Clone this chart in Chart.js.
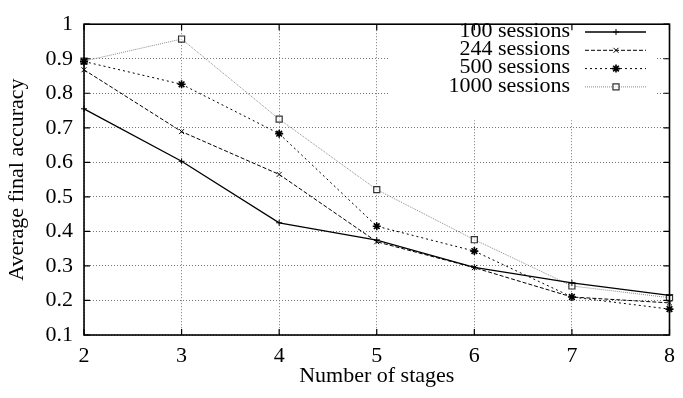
<!DOCTYPE html>
<html>
<head>
<meta charset="utf-8">
<script src="https://cdn.jsdelivr.net/npm/chart.js@4/dist/chart.umd.min.js"></script>
<style>
  html, body { margin: 0; padding: 0; background: #fff; }
</style>
</head>
<body>
<canvas id="accChart" width="683" height="398"></canvas>
<script>
// values
const stages = ['2', '3', '4', '5', '6', '7', '8'];
const seriesNames = ['100 sessions', '244 sessions', '500 sessions', '1000 sessions'];
const acc100 = [0.755, 0.603, 0.425, 0.375, 0.296, 0.251, 0.215];
const acc244 = [0.868, 0.689, 0.565, 0.370, 0.295, 0.210, 0.193];
const acc500 = [0.892, 0.826, 0.683, 0.415, 0.343, 0.210, 0.175];
const acc1000 = [0.893, 0.957, 0.725, 0.521, 0.376, 0.242, 0.208];
const yTicks = [0.1, 0.2, 0.3, 0.4, 0.5, 0.6, 0.7, 0.8, 0.9, 1];

const serif = "'Liberation Serif', 'Times New Roman', serif";
const fontSize = 22;

// gnuplot-ish frame, inner tick marks and the key
const gnuFrame = {
  id: 'gnuFrame',
  afterDraw(chart) {
    const ctx = chart.ctx;
    const a = chart.chartArea;
    const xs = chart.scales.x, ys = chart.scales.y;
    ctx.save();

    // key
    ctx.fillStyle = '#fff';
    ctx.fillRect(390, a.top + 2, 266, 94);
    ctx.font = fontSize + 'px ' + serif;
    ctx.textAlign = 'right';
    ctx.textBaseline = 'middle';
    chart.data.datasets.forEach((ds, i) => {
      const y = 32 + i * 18.3;
      ctx.fillStyle = '#000';
      ctx.fillText(ds.label, 570, y - 1);
      ctx.strokeStyle = ds.borderColor;
      ctx.lineWidth = ds.borderWidth;
      ctx.setLineDash(ds.borderDash || []);
      ctx.beginPath();
      ctx.moveTo(585, y);
      ctx.lineTo(646, y);
      ctx.stroke();
      ctx.setLineDash([]);
      ctx.strokeStyle = ds.pointBorderColor;
      ctx.fillStyle = ds.pointBackgroundColor;
      ctx.lineWidth = ds.pointBorderWidth;
      Chart.helpers.drawPoint(ctx, {
        pointStyle: ds.pointStyle, radius: ds.pointRadius, rotation: 0, borderWidth: ds.pointBorderWidth
      }, 616, y);
    });

    // tick marks on all four sides
    ctx.strokeStyle = '#000';
    ctx.lineWidth = 1.2;
    ctx.beginPath();
    stages.forEach((s, i) => {
      const x = xs.getPixelForValue(i);
      ctx.moveTo(x, a.bottom); ctx.lineTo(x, a.bottom - 6);
      ctx.moveTo(x, a.top); ctx.lineTo(x, a.top + 6);
    });
    yTicks.forEach(v => {
      const y = ys.getPixelForValue(v);
      ctx.moveTo(a.left, y); ctx.lineTo(a.left + 6, y);
      ctx.moveTo(a.right, y); ctx.lineTo(a.right - 6, y);
    });
    ctx.stroke();

    // border
    ctx.lineWidth = 1.6;
    ctx.strokeRect(a.left, a.top, a.right - a.left, a.bottom - a.top);
    ctx.restore();
  }
};

const ctx = document.getElementById('accChart').getContext('2d');
const accChart = new Chart(ctx, {
  type: 'line',
  data: {
    labels: stages,
    datasets: [{
      label: seriesNames[0],
      data: acc100,
      borderColor: '#000',
      borderWidth: 1.3,
      pointStyle: 'cross',
      pointRadius: 3,
      pointBorderColor: '#000',
      pointBackgroundColor: '#000',
      pointBorderWidth: 1
    }, {
      label: seriesNames[1],
      data: acc244,
      borderColor: '#000',
      borderWidth: 1,
      borderDash: [4, 2],
      pointStyle: 'crossRot',
      pointRadius: 3.5,
      pointBorderColor: '#000',
      pointBackgroundColor: '#000',
      pointBorderWidth: 1
    }, {
      label: seriesNames[2],
      data: acc500,
      borderColor: '#000',
      borderWidth: 1,
      borderDash: [2, 3],
      pointStyle: 'star',
      pointRadius: 4,
      pointBorderColor: '#000',
      pointBackgroundColor: '#000',
      pointBorderWidth: 1.6
    }, {
      label: seriesNames[3],
      data: acc1000,
      borderColor: '#8a8a8a',
      borderWidth: 1,
      borderDash: [1, 1],
      pointStyle: 'rect',
      pointRadius: 4.3,
      pointBorderColor: '#333',
      pointBackgroundColor: 'rgba(255,255,255,0.6)',
      pointBorderWidth: 1.2
    }]
  },
  options: {
    responsive: false,
    animation: false,
    devicePixelRatio: 1,
    layout: { padding: { top: 14, right: 9, left: 0, bottom: 0 } },
    plugins: {
      legend: { display: false },
      tooltip: { enabled: false }
    },
    elements: { line: { tension: 0 } },
    scales: {
      x: {
        type: 'category',
        offset: false,
        afterFit: s => { s.height = 63; },
        grid: { color: '#777', lineWidth: 1, drawTicks: false },
        border: { display: false, dash: [1, 2] },
        ticks: { color: '#000', padding: 8, font: { family: serif, size: fontSize } },
        title: {
          display: true, text: 'Number of stages', color: '#000',
          font: { family: serif, size: fontSize }, padding: { top: 0, bottom: 9 }
        }
      },
      y: {
        min: 0.1,
        max: 1,
        afterFit: s => { s.width = 84; },
        afterBuildTicks: s => { s.ticks = yTicks.map(v => ({ value: v })); },
        grid: { color: '#777', lineWidth: 1, drawTicks: false },
        border: { display: false, dash: [1, 2] },
        ticks: {
          color: '#000', padding: 11, font: { family: serif, size: fontSize },
          callback: v => String(Math.round(v * 10) / 10)
        },
        title: {
          display: true, text: 'Average final accuracy', color: '#000',
          font: { family: serif, size: fontSize }, padding: { top: 4, bottom: 0 }
        }
      }
    }
  },
  plugins: [gnuFrame]
});
</script>
</body>
</html>
